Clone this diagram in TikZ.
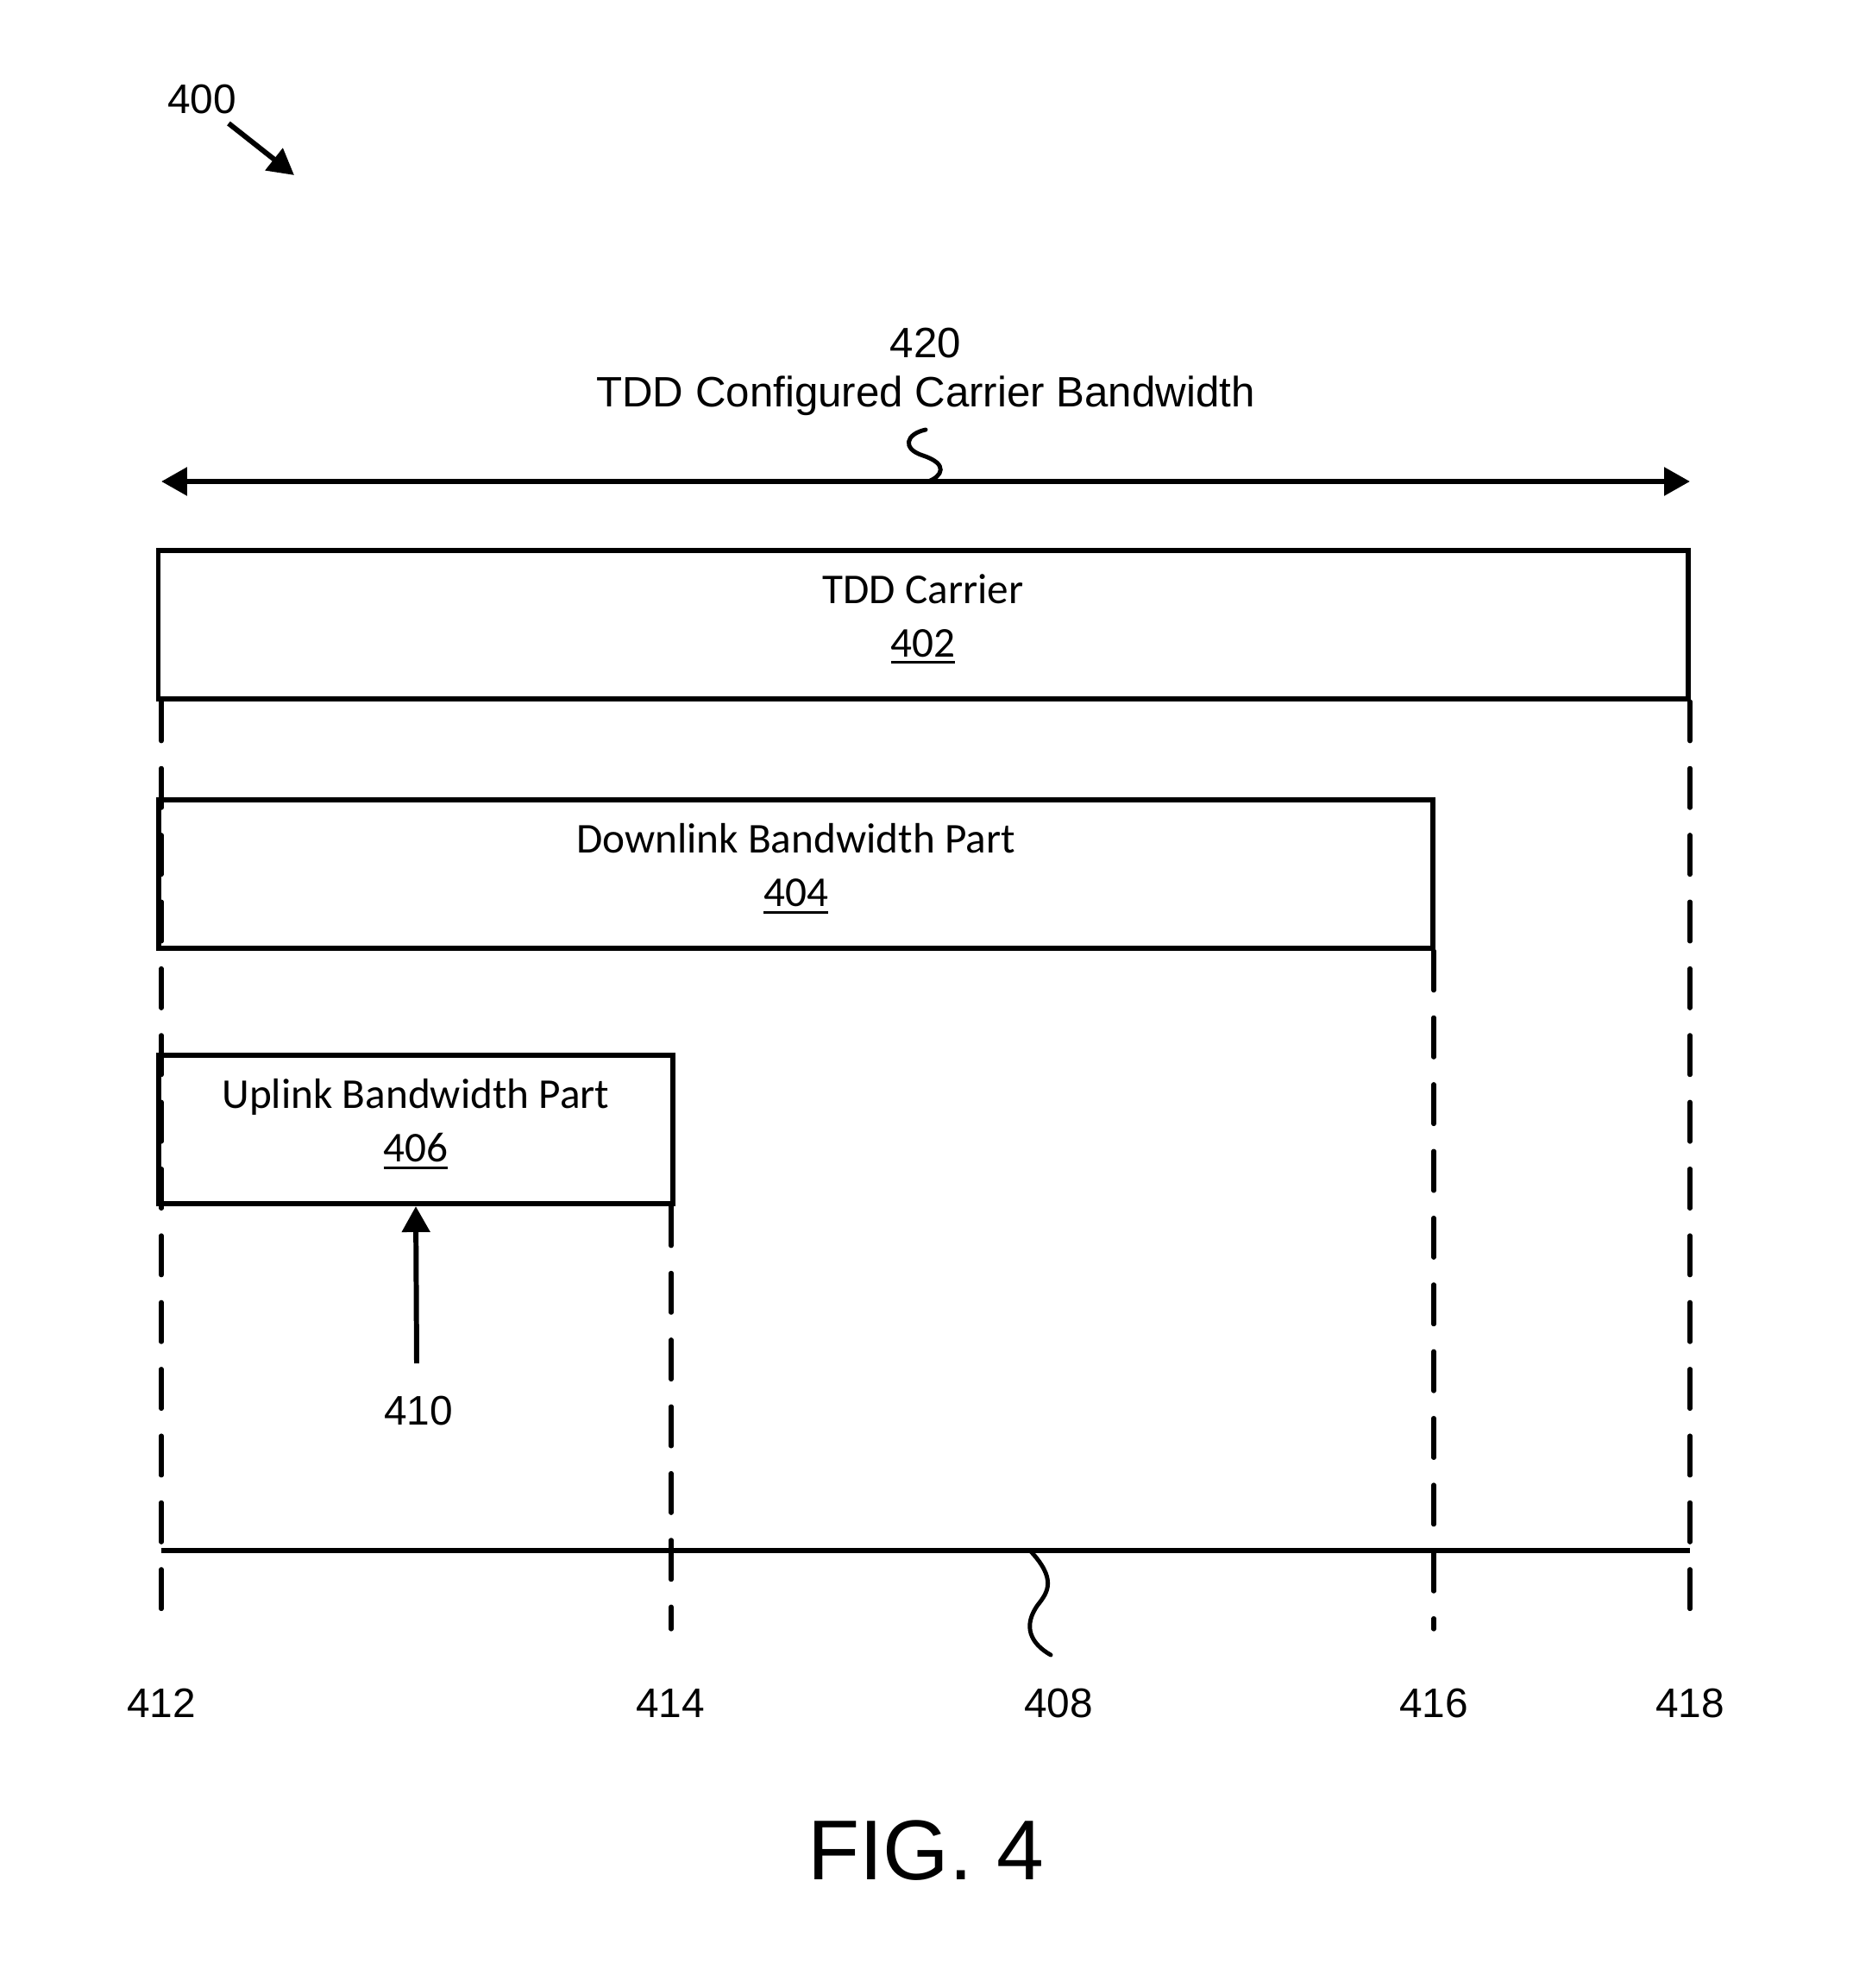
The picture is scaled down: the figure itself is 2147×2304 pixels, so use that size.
\documentclass[tikz,border=0pt]{standalone}
\usepackage{fontspec}
\setmainfont{Liberation Sans}
\newfontfamily\calfont{Carlito}
\usetikzlibrary{arrows.meta}
\newcommand{\refu}[1]{\setbox0\hbox{#1}\leavevmode\rlap{\rule[-2.3pt]{\wd0}{0.85pt}}\box0}
\tikzset{
  band/.style={draw, line width=1.7pt, inner sep=0pt, align=center, text depth=6pt, font=\calfont\fontsize{14}{17.6}\selectfont},
  guide/.style={line width=1.5pt, line cap=round, dash pattern=on 13pt off 9pt},
  refnum/.style={inner sep=0pt, font=\fontsize{13.6}{16}\selectfont},
  arrow/.style={-{Triangle[length=8.5pt,width=9pt]}, line width=1.7pt},
  squig/.style={line width=1.4pt, line cap=round}
}

\begin{document}
\begin{tikzpicture}[x=0.01cm, y=-0.01cm]
  \useasboundingbox (0,0) rectangle (2147,2304);
  \node[refnum] (n400) at (234,115) {400};
  \coordinate (t400) at (265,143);
  \coordinate (h400) at (341,203);
  \draw[arrow] (t400) -- (h400);

  \node[refnum, font=\fontsize{14}{16}\selectfont] (n420) at (1073,398) {420};
  \node[refnum, font=\fontsize{14}{16}\selectfont] (title) at (1073,459) {TDD Configured Carrier Bandwidth};
  \coordinate (bwl) at (187,558);
  \coordinate (bwr) at (1959,558);
  \draw[{Triangle[length=8.5pt,width=9pt]}-{Triangle[length=8.5pt,width=9pt]}, line width=1.8pt] (bwl) -- (bwr);
  \draw[squig] (1073,498) .. controls (1050,503) and (1045,520) .. (1070,528) .. controls (1100,538) and (1092,552) .. (1076,558);

  \node[band, minimum width=17.72cm, minimum height=1.72cm] (carrier) at (1070,724) {TDD Carrier\\\refu{402}};
  \node[band, minimum width=14.77cm, minimum height=1.72cm] (downlink) at (922.5,1013) {Downlink Bandwidth Part\\\refu{404}};
  \node[band, minimum width=5.96cm, minimum height=1.72cm] (uplink) at (482,1309) {Uplink Bandwidth Part\\\refu{406}};

  \coordinate (t410) at (483,1580);
  \draw[arrow] (t410) -- (uplink.south);
  \node[refnum] (n410) at (485,1635) {410};

  \coordinate (e412) at (187,1888);
  \coordinate (e414) at (778,1888);
  \coordinate (e416) at (1662,1888);
  \coordinate (e418) at (1959,1888);
  \draw[guide] (e412 |- carrier.south) -- (e412);
  \draw[guide] (e418 |- carrier.south) -- (e418);
  \draw[guide] (e416 |- downlink.south) -- (e416);
  \draw[guide] (e414 |- uplink.south) -- (e414);

  \coordinate (b412) at (187,1797);
  \coordinate (b418) at (1959,1797);
  \draw[line width=1.7pt] (b412) -- (b418);
  \draw[squig] (1194,1797) .. controls (1225,1830) and (1215,1845) .. (1203,1860) .. controls (1185,1885) and (1195,1905) .. (1218,1918);

  \node[refnum] (n412) at (187,1974) {412};
  \node[refnum] (n414) at (777,1974) {414};
  \node[refnum] (n408) at (1227,1974) {408};
  \node[refnum] (n416) at (1662,1974) {416};
  \node[refnum] (n418) at (1959,1974) {418};

  \node[font=\fontsize{28}{34}\selectfont] (fig) at (1073,2145) {FIG. 4};
\end{tikzpicture}
\end{document}
